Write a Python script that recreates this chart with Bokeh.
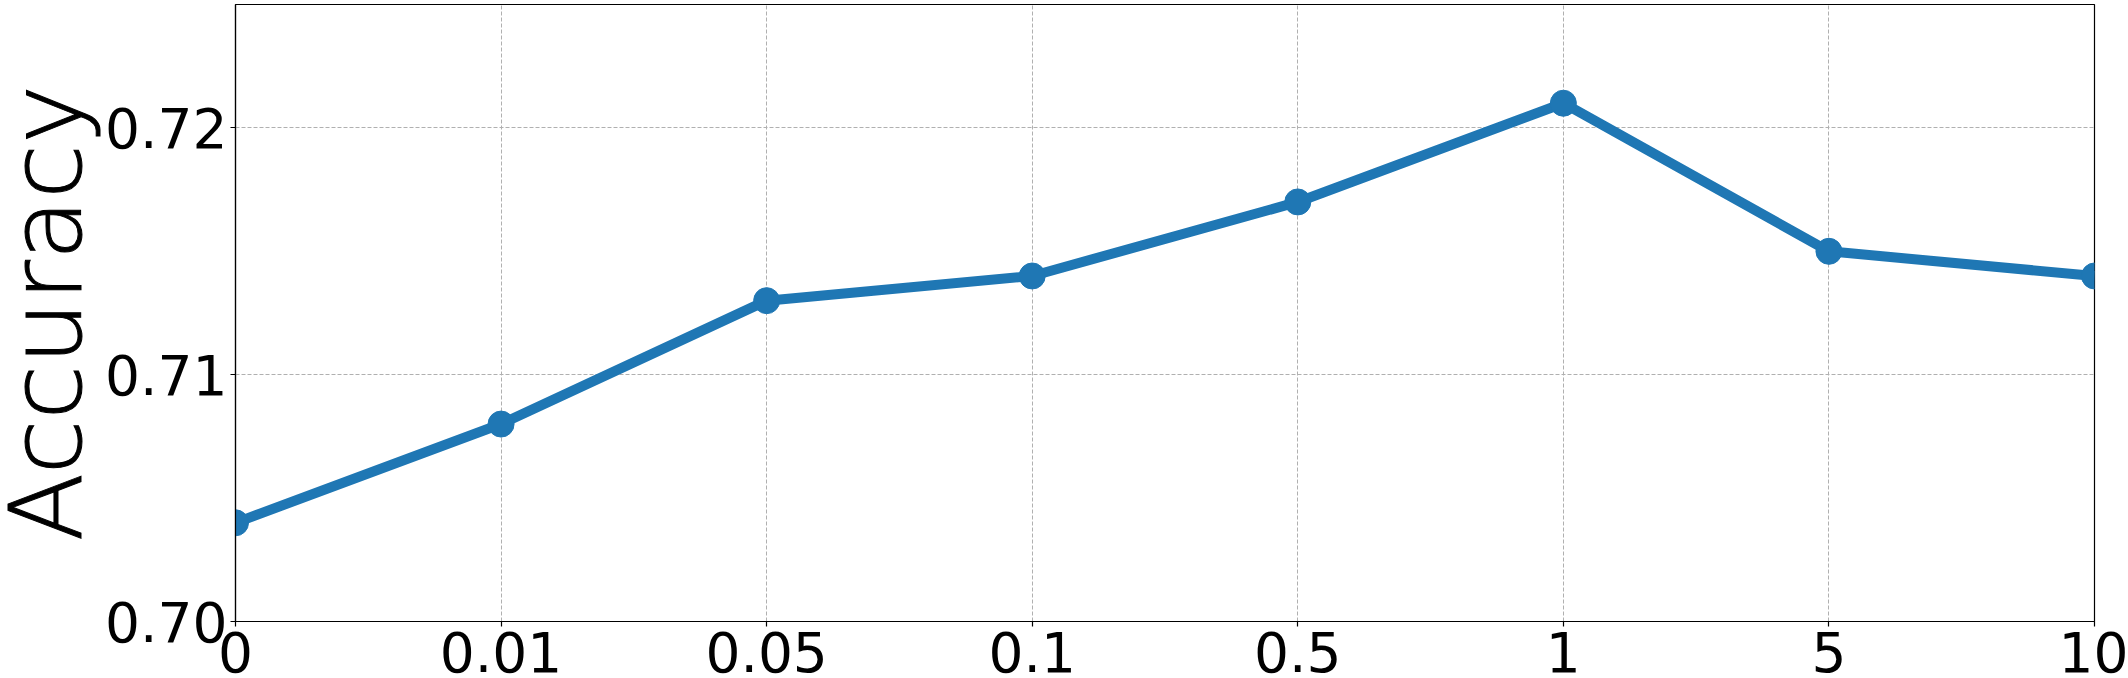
import math
from bokeh.plotting import figure
from bokeh.layouts import row
from bokeh.models import Range1d, FixedTicker, PrintfTickFormatter
from bokeh.core.properties import value
from bokeh.embed import file_html
from bokeh.resources import INLINE

x_labels = ["0", "0.01", "0.05", "0.1", "0.5", "1", "5", "10"]
accuracy = [0.704, 0.708, 0.713, 0.714, 0.717, 0.721, 0.715, 0.714]
y_ticks = [0.70, 0.71, 0.72]
y_min, y_max = 0.70, 0.725
y_label = "Accuracy"

W, H = 2128, 678
LABEL_W = 102          # strip that holds the y-axis title
LABEL_X = 46           # baseline position of the rotated title inside the strip
TOP, BOTTOM = 4, 57    # borders around the plotting frame

xs = list(range(len(x_labels)))

# --- narrow strip with the rotated y-axis title ---
t = figure(width=LABEL_W, height=H, output_backend="svg", toolbar_location=None,
           x_range=Range1d(0, LABEL_W), y_range=Range1d(y_min, y_max),
           min_border_top=TOP, min_border_bottom=BOTTOM, min_border_left=0, min_border_right=0)
t.axis.visible = False
t.grid.visible = False
t.outline_line_color = None
t.text(x=[LABEL_X], y=[(y_min + y_max) / 2], text=[y_label], angle=math.pi / 2,
       text_font=value("DejaVu Sans"), text_font_size="100px", text_color="black",
       text_outline_color="black",
       text_align="center", text_baseline="alphabetic")

# --- main plot ---
p = figure(width=W - LABEL_W, height=H, output_backend="svg", toolbar_location=None,
           x_range=Range1d(0, len(x_labels) - 1), y_range=Range1d(y_min, y_max),
           min_border_top=TOP, min_border_right=34, min_border_left=234 - LABEL_W,
           min_border_bottom=BOTTOM)

p.line(xs, accuracy, line_color="#1f77b4", line_width=10)
p.scatter(xs, accuracy, size=26, fill_color="#1f77b4", line_color="#1f77b4")

p.xaxis.ticker = FixedTicker(ticks=xs)
p.xaxis.major_label_overrides = {i: lab for i, lab in enumerate(x_labels)}
p.yaxis.ticker = FixedTicker(ticks=y_ticks)
p.yaxis.formatter = PrintfTickFormatter(format="%.2f")

for ax in (p.xaxis, p.yaxis):
    ax.major_label_text_font = "DejaVu Sans"
    ax.major_label_text_font_size = "55px"
    ax.major_label_text_color = "black"
    ax.minor_tick_line_color = None
    ax.major_tick_in = 0
    ax.major_tick_out = 5
    ax.major_tick_line_color = "black"
    ax.major_tick_line_width = 1.2
    ax.axis_line_color = "black"
    ax.axis_line_width = 1.2

p.xaxis.major_label_standoff = 5
p.yaxis.major_label_standoff = 3

p.grid.grid_line_color = "#b0b0b0"
p.grid.grid_line_dash = "4 2"
p.grid.grid_line_width = 1

p.outline_line_color = "black"
p.outline_line_width = 1.2
p.outline_line_alpha = 1
p.background_fill_color = "white"
p.border_fill_color = "white"

layout = row(t, p)
open("out.html", "w").write(file_html(layout, INLINE))
